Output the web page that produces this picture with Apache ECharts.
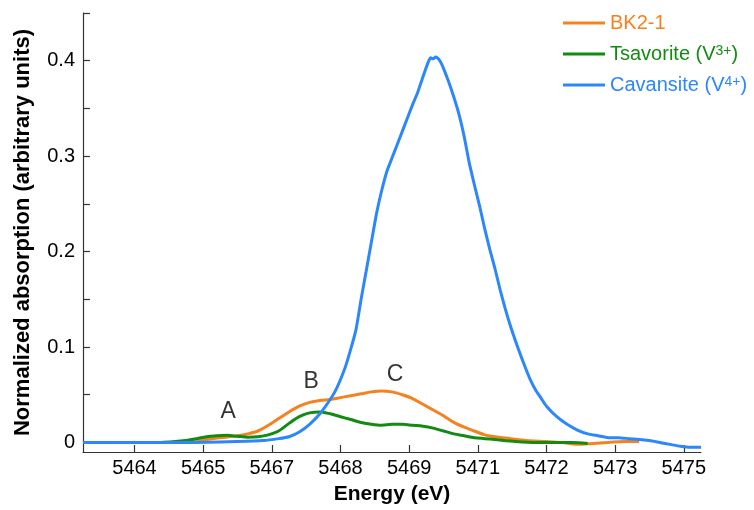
<!DOCTYPE html>
<html>
<head>
<meta charset="utf-8">
<script src="https://cdn.jsdelivr.net/npm/echarts@6/dist/echarts.min.js"></script>
<style>html,body{margin:0;padding:0;background:#fff;}#c{width:754px;height:510px;}</style>
</head>
<body>
<div id="c"></div>
<script>
// ---- data ----
var cavEnergy = [5463.0,5464.0,5465.0,5466.0,5466.5,5466.8,5467.0,5467.2,5467.4,5467.6,5467.8,5467.9,5468.0,5468.1,5468.2,5468.3,5468.4,5468.5,5468.6,5468.7,5468.8,5468.9,5469.0,5469.1,5469.2,5469.3,5469.4,5469.5,5469.6,5469.7,5469.75,5469.8,5469.85,5469.9,5469.95,5470.0,5470.1,5470.2,5470.3,5470.4,5470.5,5470.6,5470.7,5470.8,5470.9,5471.0,5471.1,5471.2,5471.3,5471.4,5471.5,5471.6,5471.7,5471.8,5471.9,5472.0,5472.2,5472.4,5472.6,5472.8,5473.0,5473.2,5473.4,5473.6,5473.8,5474.0,5474.2,5474.4,5474.6,5474.8,5475.0];
var cavAbs = [0,0,0,0.001,0.002,0.004,0.006,0.011,0.019,0.030,0.045,0.054,0.066,0.080,0.098,0.118,0.150,0.180,0.210,0.240,0.264,0.284,0.298,0.312,0.326,0.340,0.354,0.367,0.383,0.398,0.403,0.402,0.404,0.402,0.398,0.392,0.378,0.362,0.344,0.321,0.293,0.270,0.248,0.224,0.202,0.182,0.160,0.140,0.122,0.106,0.091,0.077,0.064,0.054,0.046,0.038,0.027,0.019,0.013,0.009,0.007,0.005,0.005,0.004,0.003,0.002,0.000,-0.002,-0.004,-0.005,-0.005];

var bkEnergy = [5464.0,5464.5,5465.0,5465.5,5466.0,5466.2,5466.4,5466.6,5466.8,5467.0,5467.2,5467.4,5467.6,5467.8,5468.0,5468.2,5468.4,5468.6,5468.8,5469.0,5469.2,5469.4,5469.6,5469.8,5470.0,5470.2,5470.4,5470.6,5470.8,5471.0,5471.3,5471.6,5472.0,5472.3,5472.6,5472.9,5473.2,5473.5,5473.8];
var bkAbs = [0,0,0.001,0.004,0.007,0.009,0.012,0.018,0.025,0.032,0.038,0.042,0.044,0.045,0.047,0.049,0.051,0.053,0.054,0.053,0.050,0.046,0.040,0.034,0.028,0.021,0.016,0.012,0.008,0.006,0.004,0.002,0.001,0.000,-0.002,-0.001,0.000,0.001,0.001];

var tsvEnergy = [5463.9,5464.5,5465.0,5465.2,5465.4,5465.6,5465.8,5466.0,5466.2,5466.4,5466.6,5466.8,5467.0,5467.2,5467.4,5467.6,5467.8,5468.0,5468.2,5468.4,5468.6,5468.8,5469.0,5469.2,5469.4,5469.6,5469.8,5470.0,5470.2,5470.4,5470.6,5470.8,5471.0,5471.4,5471.8,5472.2,5472.5,5472.8];
var tsvAbs = [0,0,0.002,0.004,0.006,0.007,0.0075,0.0065,0.0055,0.006,0.008,0.012,0.020,0.027,0.031,0.032,0.030,0.027,0.024,0.021,0.019,0.018,0.019,0.019,0.018,0.017,0.015,0.012,0.009,0.007,0.005,0.004,0.003,0.001,0,0,0,-0.001];

var xTickValues = [5464, 5464+4/3, 5464+8/3, 5468, 5468+4/3, 5468+8/3, 5472, 5472+4/3, 5472+8/3];
var yTickValues = [0,0.05,0.1,0.15,0.2,0.25,0.3,0.35,0.4,0.45];
var yLabelValues = [0,0.1,0.2,0.3,0.4];

var annotLabels = ['A','B','C'];
var annotEnergy = [5465.82, 5467.43, 5469.06];
var annotAbs = [0.0325, 0.064, 0.071];

var seriesNames = ['BK2-1','Tsavorite (V3+)','Cavansite (V4+)'];
var seriesColors = ['#f5821f','#118c11','#2b87fb'];

function zip(xs, ys){ return xs.map(function(x,i){ return [x, ys[i]]; }); }

var FONT = "'Liberation Sans', Arial, Helvetica, sans-serif";
var chart = echarts.init(document.getElementById('c'), null, {renderer:'canvas'});
chart.setOption({
  animation:false,
  backgroundColor:'#fff',
  textStyle:{fontFamily:FONT},
  grid:{left:83,right:53,top:13,bottom:58,containLabel:false},
  legend:{
    orient:'vertical', left:558, top:8, itemWidth:42, itemHeight:20, itemGap:11,
    icon:'path://M0,0 L42,0 L42,3 L0,3 Z',
    data:[
      {name:seriesNames[0], itemStyle:{color:seriesColors[0]}},
      {name:seriesNames[1], itemStyle:{color:seriesColors[1]}},
      {name:seriesNames[2], itemStyle:{color:seriesColors[2]}}
    ],
    formatter:function(n){
      if(n===seriesNames[0]) return '{o|BK2-1}';
      if(n===seriesNames[1]) return '{g|Tsavorite (V}{gs|3+}{g|)}';
      return '{b|Cavansite (V}{bs|4+}{b|)}';
    },
    textStyle:{fontFamily:FONT, fontSize:20,
      rich:{
        o:{color:seriesColors[0],fontSize:20,fontFamily:FONT,lineHeight:20},
        g:{color:seriesColors[1],fontSize:20,fontFamily:FONT,lineHeight:20},
        gs:{color:seriesColors[1],fontSize:14,fontFamily:FONT,lineHeight:4,verticalAlign:'top'},
        b:{color:seriesColors[2],fontSize:20,fontFamily:FONT,lineHeight:20},
        bs:{color:seriesColors[2],fontSize:14,fontFamily:FONT,lineHeight:4,verticalAlign:'top'}
      }
    }
  },
  xAxis:{
    type:'value', min:5463, max:5475,
    name:'Energy (eV)', nameLocation:'middle', nameGap:32,
    nameTextStyle:{fontFamily:FONT,fontSize:21,fontWeight:'bold',color:'#000'},
    axisLine:{onZero:false,lineStyle:{color:'#333',width:1.2}},
    axisTick:{inside:true,length:7,customValues:xTickValues,lineStyle:{color:'#333',width:1.2}},
    axisLabel:{customValues:xTickValues,margin:6,fontFamily:FONT,fontSize:20,color:'#000',
      formatter:function(v){ return String(Math.round(v)); }},
    splitLine:{show:false}
  },
  yAxis:{
    type:'value', min:-0.01, max:0.45,
    name:'Normalized absorption (arbitrary units)', nameLocation:'middle', nameGap:49,
    nameTextStyle:{fontFamily:FONT,fontSize:22,fontWeight:'bold',color:'#000'},
    axisLine:{onZero:false,lineStyle:{color:'#333',width:1.2}},
    axisTick:{inside:true,length:7,customValues:yTickValues,lineStyle:{color:'#333',width:1.2}},
    axisLabel:{customValues:yLabelValues,margin:8,fontFamily:FONT,fontSize:20,color:'#000',
      formatter:function(v){ return String(Math.round(v*10)/10); }},
    splitLine:{show:false}
  },
  series:[
    {name:seriesNames[0], type:'line', data:zip(bkEnergy,bkAbs), showSymbol:false, symbol:'none', smooth:0.3,
      lineStyle:{color:seriesColors[0],width:3}, itemStyle:{color:seriesColors[0]}, z:3},
    {name:seriesNames[1], type:'line', data:zip(tsvEnergy,tsvAbs), showSymbol:false, symbol:'none', smooth:0.3,
      lineStyle:{color:seriesColors[1],width:3}, itemStyle:{color:seriesColors[1]}, z:4},
    {name:seriesNames[2], type:'line', data:zip(cavEnergy,cavAbs), showSymbol:false, symbol:'none', smooth:0.2,
      lineStyle:{color:seriesColors[2],width:3}, itemStyle:{color:seriesColors[2]}, z:5},
    {name:'annotations', type:'scatter', symbolSize:1, itemStyle:{color:'rgba(0,0,0,0)'},
      data:annotLabels.map(function(l,i){ return {name:l, value:[annotEnergy[i], annotAbs[i]]}; }),
      label:{show:true, position:'inside', formatter:'{b}', fontFamily:FONT, fontSize:23, color:'#000'}, z:6}
  ]
});
</script>
</body>
</html>
